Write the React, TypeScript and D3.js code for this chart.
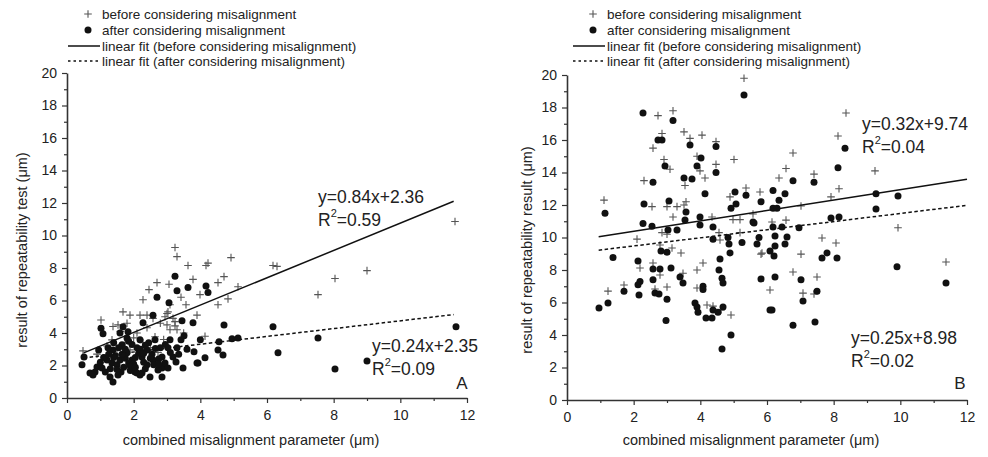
import React, { useEffect, useRef } from "react";
import * as d3 from "d3";

// panel A: repeatability test vs misalignment
const leftBefore: [number, number][] = [
  [3.24, 9.26], [3.3, 8.7], [3.63, 8.15], [4.17, 8.15], [4.23, 8.3], [4.92, 8.64], [6.18, 8.15], [6.3, 8.1],
  [2.7, 7.1], [3.06, 7.0], [3.78, 7.3], [4.53, 7.1], [4.71, 7.47], [2.46, 6.67], [5.13, 6.85], [2.28, 6.05],
  [3.42, 6.2], [3.99, 6.36], [4.53, 5.74], [4.83, 6.1], [3.57, 5.74], [3.09, 5.74], [3.0, 5.2], [3.03, 5.3],
  [2.94, 5.0], [1.68, 5.3], [1.89, 5.1], [2.19, 5.1], [2.4, 5.1], [2.58, 4.9], [1.02, 4.8], [1.38, 4.4],
  [1.53, 4.5], [3.9, 5.1], [4.14, 3.8], [0.48, 2.9], [3.24, 4.44], [3.18, 4.9], [3.24, 4.7], [3.0, 4.5],
  [3.09, 4.2], [3.3, 4.2], [11.64, 10.86], [7.53, 6.36], [8.04, 7.35], [9.0, 7.84],
  [1.35, 3.58], [1.74, 3.4], [2.1, 4.0], [2.28, 3.4], [1.89, 2.96], [2.4, 4.32], [2.64, 3.77], [2.73, 2.8],
  [1.2, 3.2], [1.5, 2.7], [2.0, 3.7], [2.5, 3.1], [2.9, 3.6], [1.6, 4.1], [0.9, 2.7], [2.2, 2.6],
  [3.5, 4.0], [2.8, 4.6], [1.8, 4.6],
];

const leftAfter: [number, number][] = [
  [6.18, 4.38], [6.33, 2.78], [7.53, 3.7], [8.04, 1.79], [9.0, 2.28], [11.67, 4.38],
  [3.24, 7.5], [3.3, 6.6], [3.63, 6.8], [4.17, 6.9], [4.23, 6.5], [2.7, 6.2], [3.06, 5.86], [2.58, 5.1],
  [2.28, 4.63], [3.45, 4.75], [3.78, 4.63], [4.71, 4.5], [1.02, 4.3], [1.08, 3.95], [4.0, 3.58], [4.56, 3.46],
  [4.95, 3.64], [5.13, 3.7], [4.68, 2.65], [4.53, 2.96], [4.14, 2.47], [3.9, 2.16], [3.48, 1.85], [2.85, 1.85],
  [2.49, 1.3], [2.73, 1.73], [0.45, 2.04], [0.51, 2.53], [0.69, 1.54], [0.84, 1.6], [1.38, 0.99], [1.29, 1.3],
  [1.53, 1.42], [2.1, 1.54], [2.25, 1.54], [2.64, 3.58], [3.09, 3.58], [3.42, 3.58], [3.51, 3.83], [3.03, 3.09],
  [3.3, 3.09], [3.6, 3.0], [3.81, 2.84], [2.85, 2.53], [3.18, 2.53], [3.27, 2.22], [2.94, 2.16], [3.03, 1.85],
  [2.85, 1.3], [3.93, 2.16], [0.78, 1.42], [1.2, 2.34], [1.35, 2.16], [1.5, 2.04], [1.59, 2.34], [1.38, 2.96],
  [1.65, 3.27], [1.8, 2.78], [1.95, 2.34], [2.1, 3.09], [2.25, 2.53], [2.4, 2.96], [2.19, 3.58], [1.8, 3.7],
  [1.59, 4.0], [2.04, 1.6], [2.19, 1.42], [0.9, 1.91], [1.05, 1.85], [2.4, 2.04], [2.58, 2.34], [1.68, 4.38],
  [1.83, 4.07], [1.23, 3.09], [1.1, 2.5], [1.45, 2.6], [1.7, 1.9], [1.9, 1.7], [2.0, 2.1], [2.3, 2.2],
  [2.55, 2.7], [1.75, 2.45], [2.15, 2.75], [1.3, 1.8], [1.95, 3.3], [2.45, 3.4], [2.75, 2.4], [1.62, 1.6],
  [2.35, 1.8], [3.1, 2.8], [2.95, 3.3], [1.55, 3.1], [1.85, 2.15],
  [1.0, 2.2], [1.15, 1.6], [1.4, 2.5], [1.65, 2.7], [1.75, 3.0], [2.05, 2.5], [2.2, 3.0], [2.3, 2.75],
  [2.6, 2.05], [2.65, 3.05], [2.35, 3.25], [1.9, 1.95], [1.5, 1.75], [1.25, 2.7], [0.95, 2.95], [2.8, 3.1],
  [3.35, 2.7], [2.5, 2.45], [1.85, 3.5], [2.05, 1.9], [1.4, 3.4], [2.75, 2.1],
];

// panel B: repeatability result vs misalignment
const rightBefore: [number, number][] = [
  [5.31, 19.8], [2.73, 17.5], [3.18, 17.8], [2.85, 16.4], [3.51, 16.5], [4.05, 16.3], [3.69, 16.1], [4.47, 15.9],
  [2.58, 15.5], [2.91, 14.8], [3.09, 14.2], [3.9, 15.0], [3.99, 14.1], [4.47, 14.5], [5.01, 14.8], [2.31, 13.5],
  [3.54, 13.2], [4.14, 13.66], [1.11, 12.3], [2.55, 11.9], [3.0, 11.9], [3.3, 11.9], [3.57, 12.2], [3.18, 11.26],
  [4.35, 11.26], [4.89, 12.5], [5.37, 13.05], [5.79, 12.8], [5.19, 11.1], [3.51, 12.0], [4.59, 9.85], [5.58, 11.45],
  [2.1, 9.9], [2.85, 10.3], [3.0, 10.2], [2.79, 9.54], [3.15, 9.35], [3.42, 9.05], [2.58, 8.43], [2.19, 8.12],
  [2.79, 7.69], [3.48, 7.8], [3.9, 8.0], [4.08, 8.43], [1.23, 6.7], [1.71, 7.08], [3.0, 6.95], [2.64, 6.83],
  [3.9, 6.89], [4.2, 5.85], [4.38, 5.78], [4.62, 5.54], [4.92, 5.23], [4.56, 10.3], [5.19, 10.3], [5.82, 8.98],
  [6.09, 6.77], [4.98, 11.1], [8.37, 17.66], [8.13, 16.25], [6.78, 15.2], [6.57, 14.25], [6.36, 13.66], [7.41, 13.9],
  [8.16, 13.0], [7.92, 12.5], [9.24, 14.1], [7.02, 11.94], [6.57, 11.07], [6.15, 10.95], [9.93, 10.6], [7.65, 9.97],
  [8.07, 9.66], [7.02, 8.98], [5.85, 9.04], [6.78, 7.88], [7.5, 7.57], [7.08, 6.58], [7.41, 6.52], [11.37, 8.49],
];

const rightAfter: [number, number][] = [
  [2.28, 17.66], [3.18, 17.2], [2.73, 16.0], [2.85, 16.0], [3.69, 15.7], [4.02, 14.9], [2.94, 14.4], [3.9, 14.4],
  [4.47, 15.6], [4.47, 14.0], [3.51, 13.66], [3.75, 13.6], [2.58, 13.4], [4.14, 12.7], [5.31, 18.77], [1.14, 11.5],
  [2.31, 12.06], [3.06, 12.25], [3.57, 11.57], [5.04, 12.8], [5.37, 12.6], [5.07, 12.06], [4.92, 11.8], [5.82, 12.2],
  [5.58, 10.95], [3.99, 11.26], [3.99, 10.77], [3.54, 11.07], [2.28, 10.86], [2.55, 10.7], [3.03, 10.46], [3.3, 10.46],
  [4.38, 10.65], [4.38, 9.9], [4.83, 10.0], [4.86, 9.6], [4.89, 9.05], [5.25, 9.7], [5.61, 10.9], [5.76, 10.0],
  [5.7, 9.6], [6.09, 9.17], [1.38, 8.77], [2.13, 8.55], [2.82, 9.17], [3.0, 9.1], [2.58, 8.06], [2.79, 8.06],
  [3.12, 8.12], [2.19, 7.3], [2.13, 7.1], [2.58, 7.4], [3.39, 7.57], [3.48, 7.2], [1.71, 6.7], [2.16, 6.46],
  [2.64, 6.58], [2.76, 6.52], [3.0, 6.2], [1.23, 5.97], [0.96, 5.66], [2.97, 4.9], [4.08, 7.0], [4.08, 6.8],
  [3.84, 5.97], [3.9, 5.72], [3.93, 5.4], [4.17, 5.05], [4.35, 5.05], [4.38, 5.54], [4.53, 5.4], [4.68, 5.72],
  [4.59, 8.67], [4.56, 8.0], [4.65, 7.5], [4.68, 7.2], [4.92, 4.0], [4.65, 3.14], [5.82, 7.45], [6.09, 5.54],
  [8.34, 15.5], [8.13, 14.3], [6.78, 13.5], [7.41, 13.4], [6.18, 12.9], [6.54, 12.7], [6.36, 12.3], [6.18, 11.8],
  [6.3, 11.8], [9.27, 12.7], [9.93, 12.55], [9.27, 11.75], [7.92, 11.2], [8.16, 11.26], [6.45, 10.65], [6.96, 10.6],
  [6.18, 10.65], [6.6, 10.03], [6.24, 10.09], [6.54, 9.6], [6.24, 9.48], [6.21, 8.86], [7.8, 9.05], [7.65, 8.74],
  [8.1, 8.74], [6.24, 7.57], [7.02, 7.4], [7.5, 6.7], [7.08, 6.09], [6.15, 5.54], [6.78, 4.6], [7.44, 4.8],
  [9.9, 8.2], [11.37, 7.2],
];

// fits: [slope, intercept, xStart, xEnd]
const leftFitBefore = [0.84, 2.36, 0.5, 11.6];
const leftFitAfter = [0.24, 2.35, 0.5, 11.6];
const rightFitBefore = [0.32, 9.74, 0.95, 12];
const rightFitAfter = [0.25, 8.98, 0.95, 12];

const xTicks = [0, 2, 4, 6, 8, 10, 12];
const yTicks = [0, 2, 4, 6, 8, 10, 12, 14, 16, 18, 20];

const legendLabels = [
  "before considering misalignment",
  "after considering misalignment",
  "linear fit (before considering misalignment)",
  "linear fit (after considering misalignment)",
];

const FONT = "'Liberation Sans', Arial, sans-serif";
const TXT = "#222";
const PLUS = "#555";
const ARM = 3.8;
const DOT_R = 3.5;

const App = () => {
  const svgRef = useRef<SVGSVGElement>(null);

  useEffect(() => {
    const svg = d3.select(svgRef.current);
    svg.selectAll("*").remove();

    const panels = [
      {
        left: 67, right: 467, top: 73, bottom: 398, shift: 0,
        before: leftBefore, after: leftAfter, fitB: leftFitBefore, fitA: leftFitAfter,
        ytitle: "result of repeatability test (\u03bcm)", ytx: 22, letter: "A", lx: 462,
        eqB: ["y=0.84x+2.36", "0.59"], eqBpos: [318, 197],
        eqA: ["y=0.24x+2.35", "0.09"], eqApos: [372, 346],
      },
      {
        left: 567, right: 967, top: 75, bottom: 400, shift: 505,
        before: rightBefore, after: rightAfter, fitB: rightFitBefore, fitA: rightFitAfter,
        ytitle: "result of repeatability result (\u03bcm)", ytx: 527, letter: "B", lx: 960,
        eqB: ["y=0.32x+9.74", "0.04"], eqBpos: [862, 124],
        eqA: ["y=0.25x+8.98", "0.02"], eqApos: [851, 338],
      },
    ];

    panels.forEach((p) => {
      const x = d3.scaleLinear().domain([0, 12]).range([p.left, p.right]);
      const y = d3.scaleLinear().domain([0, 20]).range([p.bottom, p.top]);
      const g = svg.append("g");

      // minor ticks
      g.append("g")
        .attr("transform", `translate(0,${p.bottom})`)
        .call(d3.axisBottom(x).tickValues(d3.range(1, 12, 2)).tickSize(3).tickFormat(() => ""))
        .call((s) => s.select(".domain").remove());
      g.append("g")
        .attr("transform", `translate(${p.left},0)`)
        .call(d3.axisLeft(y).tickValues(d3.range(1, 20, 2)).tickSize(3).tickFormat(() => ""))
        .call((s) => s.select(".domain").remove());

      const xa = g.append("g")
        .attr("transform", `translate(0,${p.bottom})`)
        .call(d3.axisBottom(x).tickValues(xTicks).tickSize(5).tickPadding(7).tickSizeOuter(0));
      const ya = g.append("g")
        .attr("transform", `translate(${p.left},0)`)
        .call(d3.axisLeft(y).tickValues(yTicks).tickSize(5).tickPadding(5).tickSizeOuter(0));

      [xa, ya].forEach((a) => {
        a.selectAll("text").attr("font-family", FONT).attr("font-size", 14).attr("fill", TXT);
        a.select(".domain").attr("stroke", "#333").attr("stroke-width", 1.6);
      });
      g.selectAll(".tick line").attr("stroke", "#333").attr("stroke-width", 1.2);

      // titles
      g.append("text")
        .attr("x", (p.left + p.right) / 2 - 16)
        .attr("y", 445)
        .attr("text-anchor", "middle")
        .attr("font-family", FONT).attr("font-size", 14.5).attr("fill", TXT)
        .text("combined misalignment parameter (\u03bcm)");
      g.append("text")
        .attr("transform", `translate(${p.ytx + 5},250) rotate(-90)`)
        .attr("text-anchor", "middle")
        .attr("font-family", FONT).attr("font-size", 14.5).attr("fill", TXT)
        .text(p.ytitle);

      // fit lines
      const fitLine = (f: number[], dash: string | null) => {
        g.append("line")
          .attr("x1", x(f[2])).attr("y1", y(f[0] * f[2] + f[1]))
          .attr("x2", x(f[3])).attr("y2", y(f[0] * f[3] + f[1]))
          .attr("stroke", "#111").attr("stroke-width", 1.5)
          .attr("stroke-dasharray", dash);
      };

      // points
      g.append("g").selectAll("path").data(p.before).join("path")
        .attr("d", (d) => {
          const cx = x(d[0]), cy = y(d[1]);
          return `M${cx - ARM},${cy}H${cx + ARM}M${cx},${cy - ARM}V${cy + ARM}`;
        })
        .attr("stroke", PLUS).attr("stroke-width", 1.1);
      g.append("g").selectAll("circle").data(p.after).join("circle")
        .attr("cx", (d) => x(d[0])).attr("cy", (d) => y(d[1]))
        .attr("r", DOT_R).attr("fill", "#111");

      fitLine(p.fitB, null);
      fitLine(p.fitA, "3.5,2.5");

      // equations
      const eq = (lines: string[], pos: number[]) => {
        g.append("text").attr("x", pos[0]).attr("y", pos[1])
          .attr("dominant-baseline", "central")
          .attr("font-family", FONT).attr("font-size", 17.5).attr("fill", TXT)
          .text(lines[0]);
        const t = g.append("text").attr("x", pos[0]).attr("y", pos[1] + 23)
          .attr("dominant-baseline", "central")
          .attr("font-family", FONT).attr("font-size", 17.5).attr("fill", TXT);
        t.append("tspan").text("R");
        t.append("tspan").attr("font-size", 11).attr("dy", -7).text("2");
        t.append("tspan").attr("dy", 7).text("=" + lines[1]);
      };
      eq(p.eqB, p.eqBpos);
      eq(p.eqA, p.eqApos);

      g.append("text").attr("x", p.lx).attr("y", 383)
        .attr("text-anchor", "middle").attr("dominant-baseline", "central")
        .attr("font-family", FONT).attr("font-size", 17).attr("fill", TXT)
        .text(p.letter);

      // legend
      const rows = [14, 30, 46, 61];
      const lg = g.append("g").attr("transform", `translate(${p.shift},0)`);
      lg.append("path")
        .attr("d", `M${88 - ARM},${rows[0]}H${88 + ARM}M88,${rows[0] - ARM}V${rows[0] + ARM}`)
        .attr("stroke", PLUS).attr("stroke-width", 1.1);
      lg.append("circle").attr("cx", 88).attr("cy", rows[1]).attr("r", DOT_R).attr("fill", "#111");
      lg.append("line").attr("x1", 68).attr("x2", 100).attr("y1", rows[2]).attr("y2", rows[2])
        .attr("stroke", "#111").attr("stroke-width", 1.5);
      lg.append("line").attr("x1", 68).attr("x2", 100).attr("y1", rows[3]).attr("y2", rows[3])
        .attr("stroke", "#111").attr("stroke-width", 1.5).attr("stroke-dasharray", "2.5,3");
      legendLabels.forEach((lab, i) => {
        lg.append("text").attr("x", 102).attr("y", rows[i])
          .attr("dominant-baseline", "central")
          .attr("font-family", FONT).attr("font-size", 13.5).attr("fill", TXT)
          .text(lab);
      });
    });
  }, []);

  return (
    <svg
      ref={svgRef}
      width={988}
      height={457}
      style={{ position: "absolute", left: 0, top: 0, background: "#fff" }}
    />
  );
};

export default App;
